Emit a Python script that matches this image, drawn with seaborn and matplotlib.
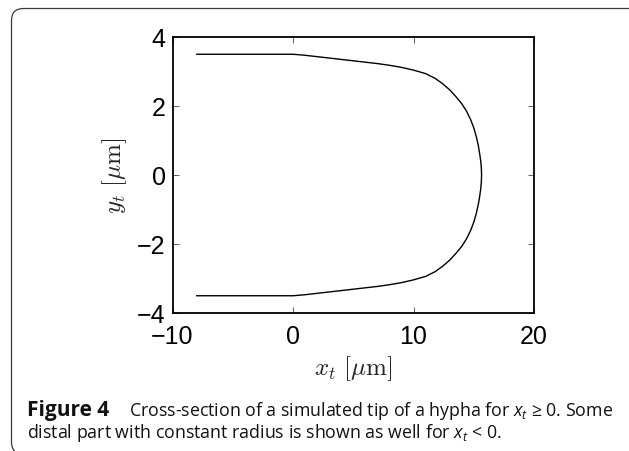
import numpy as np
import pandas as pd
import matplotlib
matplotlib.use("Agg")
import matplotlib.pyplot as plt
import seaborn as sns
from matplotlib.patches import FancyBboxPatch
from matplotlib.transforms import IdentityTransform

# ---- data ----
x_upper = [-8.0, 0.0, 1.0, 2.0, 3.0, 4.0, 5.0, 6.0, 7.0, 8.0, 9.0, 10.0, 11.0, 11.8, 12.4, 13.0,
           13.5, 14.0, 14.4, 14.75, 15.02, 15.22, 15.38, 15.5, 15.58, 15.63, 15.65]
y_upper = [3.5, 3.5, 3.47, 3.43, 3.39, 3.35, 3.31, 3.27, 3.23, 3.18, 3.12, 3.04, 2.94, 2.80, 2.65, 2.47,
           2.28, 2.07, 1.85, 1.60, 1.35, 1.10, 0.85, 0.60, 0.40, 0.20, 0.0]
x_lower = [15.63, 15.58, 15.5, 15.38, 15.22, 15.02, 14.75, 14.4, 14.0, 13.5, 13.0, 12.4, 11.8, 11.0,
           10.0, 9.0, 8.0, 7.0, 6.0, 5.0, 4.0, 3.0, 2.0, 1.0, 0.0, -8.0]
y_lower = [-0.20, -0.40, -0.60, -0.85, -1.10, -1.35, -1.60, -1.85, -2.07, -2.28, -2.47, -2.65, -2.80, -2.94,
           -3.04, -3.12, -3.18, -3.23, -3.27, -3.31, -3.35, -3.39, -3.43, -3.47, -3.5, -3.5]
x_ticks = [-10, 0, 10, 20]
y_ticks = [-4, -2, 0, 2, 4]
x_label = r"$x_t\ [\mu\mathrm{m}]$"
y_label = r"$y_t\ [\mu\mathrm{m}]$"
caption_bold = "Figure 4"
caption_line1 = r"Cross-section of a simulated tip of a hypha for $x_t$ ≥ 0. Some"
caption_line2 = r"distal part with constant radius is shown as well for $x_t$ < 0."

sns.set_theme(style="white")
plt.rcParams["font.family"] = ["Liberation Sans", "DejaVu Sans"]
plt.rcParams["mathtext.fontset"] = "cm"
plt.rcParams["mathtext.it"] = "Open Sans:italic"
plt.rcParams["mathtext.rm"] = "Open Sans"
plt.rcParams["axes.unicode_minus"] = True

fig = plt.figure(figsize=(6.29, 4.52), dpi=100)
W, H = 629, 452
ax = fig.add_axes([172.5 / W, 1 - 314 / H, (534 - 172.5) / W, (314 - 38) / H])

df = pd.DataFrame({"x": x_upper + x_lower, "y": y_upper + y_lower})
sns.lineplot(data=df, x="x", y="y", sort=False, estimator=None, color="black",
             linewidth=1.0, ax=ax)

ax.set_xlim(-10, 20)
ax.set_ylim(-4, 4)
ax.set_xticks(x_ticks)
ax.set_yticks(y_ticks)
ax.set_xticklabels([str(v).replace("-", "\u2212") for v in x_ticks])
ax.set_yticklabels([str(v).replace("-", "\u2212") for v in y_ticks])
ax.tick_params(direction="in", length=4, width=0.6, color="#444444", labelsize=18,
               top=True, right=True, bottom=True, left=True, labelcolor="black")
ax.tick_params(axis="x", pad=8)
ax.tick_params(axis="y", pad=5)
for s in ax.spines.values():
    s.set_color("black")
    s.set_linewidth(1.3)
ax.set_xlabel(x_label, fontsize=18, labelpad=4)
ax.set_ylabel(y_label, fontsize=18, labelpad=6)

# rounded frame
frame = FancyBboxPatch((11.5, -3), 640, 452 + 3 - 9.5,
                       boxstyle="round,pad=0,rounding_size=12",
                       transform=IdentityTransform(), fill=False,
                       edgecolor="#3a3a3a", linewidth=0.9)
fig.add_artist(frame)

# caption
cap_size = 12.8
fig.text(27 / W, 1 - 416 / H, caption_bold, fontsize=15, fontweight="bold",
         family="Open Sans", color="#111111", va="baseline", ha="left")
fig.text(129 / W, 1 - 416 / H, caption_line1, fontsize=cap_size, family="Open Sans",
         color="#111111", va="baseline", ha="left", math_fontfamily="custom")
fig.text(27 / W, 1 - 438 / H, caption_line2, fontsize=cap_size, family="Open Sans",
         color="#111111", va="baseline", ha="left", math_fontfamily="custom")

fig.savefig("out.png", dpi=100)
